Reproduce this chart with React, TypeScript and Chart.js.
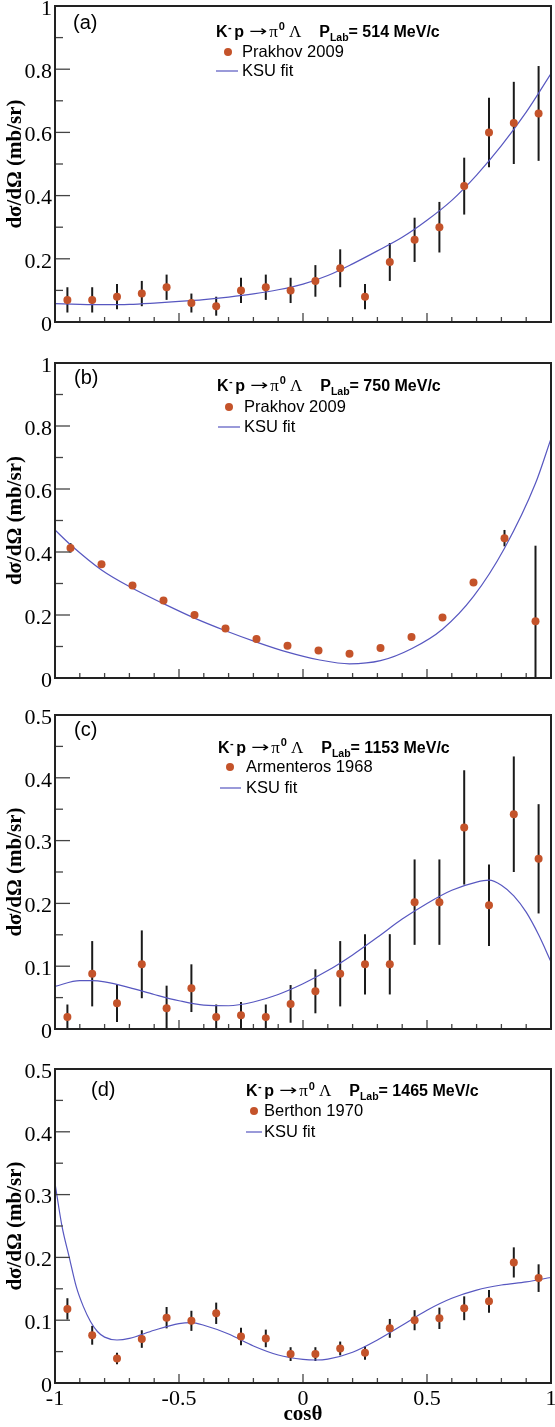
import React, { useEffect, useRef } from 'react';
import { Chart, registerables } from 'chart.js';

Chart.register(...registerables);

// ---------- DATA ----------
const bins20 = [-0.95, -0.85, -0.75, -0.65, -0.55, -0.45, -0.35, -0.25, -0.15, -0.05, 0.05, 0.15, 0.25, 0.35, 0.45, 0.55, 0.65, 0.75, 0.85, 0.95];
const bins16 = [-0.9375, -0.8125, -0.6875, -0.5625, -0.4375, -0.3125, -0.1875, -0.0625, 0.0625, 0.1875, 0.3125, 0.4375, 0.5625, 0.6875, 0.8125, 0.9375];

// (a) Prakhov 2009, 514 MeV/c
const valuesA = [0.07, 0.07, 0.08, 0.09, 0.11, 0.06, 0.05, 0.10, 0.11, 0.10, 0.13, 0.17, 0.08, 0.19, 0.26, 0.30, 0.43, 0.60, 0.63, 0.66];
const errorsA = [0.04, 0.04, 0.04, 0.04, 0.04, 0.03, 0.03, 0.04, 0.04, 0.04, 0.05, 0.06, 0.04, 0.06, 0.07, 0.08, 0.09, 0.11, 0.13, 0.15];
const fitXA = [-1, -0.9, -0.8, -0.7, -0.6, -0.5, -0.4, -0.3, -0.2, -0.1, 0, 0.1, 0.2, 0.3, 0.4, 0.5, 0.6, 0.7, 0.8, 0.9, 1];
const fitYA = [0.058, 0.056, 0.055, 0.056, 0.06, 0.065, 0.071, 0.079, 0.089, 0.102, 0.12, 0.147, 0.184, 0.225, 0.268, 0.322, 0.385, 0.465, 0.558, 0.664, 0.786];

// (b) Prakhov 2009, 750 MeV/c
const valuesB = [0.413, 0.361, 0.294, 0.246, 0.2, 0.157, 0.124, 0.102, 0.087, 0.077, 0.095, 0.13, 0.192, 0.303, 0.444, 0.18];
const errorsB = [0.015, 0.01, 0.01, 0.01, 0.01, 0.01, 0.01, 0.01, 0.01, 0.01, 0.01, 0.01, 0.01, 0.01, 0.026, 0.24];
const fitXB = [-1, -0.9375, -0.8125, -0.6875, -0.5625, -0.4375, -0.3125, -0.1875, -0.0625, 0.0625, 0.1875, 0.3125, 0.4375, 0.5625, 0.6875, 0.8125, 0.9375, 1];
const fitYB = [0.47, 0.423, 0.343, 0.285, 0.236, 0.19, 0.15, 0.114, 0.082, 0.058, 0.045, 0.055, 0.093, 0.155, 0.259, 0.412, 0.618, 0.76];

// (c) Armenteros 1968, 1153 MeV/c
const valuesC = [0.019, 0.088, 0.041, 0.103, 0.033, 0.065, 0.019, 0.022, 0.019, 0.04, 0.06, 0.088, 0.103, 0.103, 0.202, 0.202, 0.321, 0.197, 0.342, 0.271];
const errorsC = [0.02, 0.052, 0.03, 0.054, 0.036, 0.038, 0.02, 0.021, 0.02, 0.03, 0.035, 0.052, 0.048, 0.048, 0.068, 0.068, 0.091, 0.065, 0.092, 0.087];
const fitXC = [-1, -0.9, -0.85, -0.8, -0.7, -0.6, -0.5, -0.4, -0.3, -0.2, -0.1, 0, 0.1, 0.2, 0.3, 0.4, 0.5, 0.6, 0.7, 0.75, 0.8, 0.85, 0.9, 0.95, 1];
const fitYC = [0.068, 0.077, 0.077, 0.075, 0.066, 0.055, 0.045, 0.038, 0.037, 0.043, 0.055, 0.072, 0.093, 0.118, 0.146, 0.175, 0.2, 0.221, 0.234, 0.237, 0.229, 0.212, 0.186, 0.15, 0.107];

// (d) Berthon 1970, 1465 MeV/c
const valuesD = [0.118, 0.076, 0.039, 0.07, 0.104, 0.099, 0.111, 0.074, 0.071, 0.046, 0.046, 0.055, 0.048, 0.087, 0.1, 0.103, 0.119, 0.13, 0.192, 0.167];
const errorsD = [0.017, 0.015, 0.009, 0.014, 0.017, 0.016, 0.017, 0.014, 0.014, 0.011, 0.011, 0.011, 0.011, 0.015, 0.016, 0.017, 0.019, 0.018, 0.024, 0.022];
const fitXD = [-1, -0.9715, -0.943, -0.914, -0.886, -0.857, -0.829, -0.8, -0.75, -0.7, -0.6, -0.5, -0.45, -0.4, -0.3, -0.2, -0.1, 0, 0.05, 0.1, 0.2, 0.3, 0.4, 0.5, 0.6, 0.7, 0.8, 0.9, 1];
const fitYD = [0.318, 0.249, 0.201, 0.153, 0.122, 0.098, 0.082, 0.073, 0.0685, 0.071, 0.084, 0.0945, 0.096, 0.092, 0.078, 0.059, 0.0446, 0.0377, 0.0366, 0.038, 0.049, 0.0685, 0.092, 0.116, 0.135, 0.148, 0.156, 0.161, 0.168];

const xTickLabels = ['-1', '-0.5', '0', '0.5', '1'];
const yTitle = 'dσ/dΩ (mb/sr)';
const xTitle = 'cosθ';
const fitLabel = 'KSU fit';

// ---------- STYLE ----------
const MARKER = '#C4532A';
const FIT = '#5757C0';
const SERIF = '"Liberation Serif", "Times New Roman", serif';
const SANS = '"Liberation Sans", Arial, Helvetica, sans-serif';

type PanelCfg = {
  top: number; height: number; padTop: number; xAxisH: number;
  yMax: number; yMajor: number; yMinor: number;
  bins: number[]; values: number[]; errors: number[];
  fitX: number[]; fitY: number[];
  tag: string; tagX: number; tagY: number;
  momentum: string; source: string;
  headX: number; headY: number; markX: number; textX: number; lineX0: number; lineX1: number; row1Y: number; row2Y: number;
  showX: boolean;
};

const panels: PanelCfg[] = [
  { top: 0, height: 340, padTop: 6, xAxisH: 18, yMax: 1, yMajor: 0.2, yMinor: 0.1,
    bins: bins20, values: valuesA, errors: errorsA, fitX: fitXA, fitY: fitYA,
    tag: '(a)', tagX: 73, tagY: 17, momentum: '514', source: 'Prakhov 2009',
    headX: 216, headY: 25, markX: 228, textX: 242, lineX0: 216, lineX1: 238, row1Y: 46, row2Y: 65, showX: false },
  { top: 340, height: 355, padTop: 23, xAxisH: 17, yMax: 1, yMajor: 0.2, yMinor: 0.1,
    bins: bins16, values: valuesB, errors: errorsB, fitX: fitXB, fitY: fitYB,
    tag: '(b)', tagX: 74, tagY: 15, momentum: '750', source: 'Prakhov 2009',
    headX: 217, headY: 22, markX: 229, textX: 244, lineX0: 218, lineX1: 240, row1Y: 44, row2Y: 64, showX: false },
  { top: 695, height: 350, padTop: 20, xAxisH: 16, yMax: 0.5, yMajor: 0.1, yMinor: 0.05,
    bins: bins20, values: valuesC, errors: errorsC, fitX: fitXC, fitY: fitYC,
    tag: '(c)', tagX: 74, tagY: 15, momentum: '1153', source: 'Armenteros 1968',
    headX: 218, headY: 32, markX: 230, textX: 246, lineX0: 220, lineX1: 241, row1Y: 52, row2Y: 73, showX: false },
  { top: 1045, height: 382, padTop: 24, xAxisH: 44, yMax: 0.5, yMajor: 0.1, yMinor: 0.05,
    bins: bins20, values: valuesD, errors: errorsD, fitX: fitXD, fitY: fitYD,
    tag: '(d)', tagX: 91, tagY: 21, momentum: '1465', source: 'Berthon 1970',
    headX: 246, headY: 21.5, markX: 254, textX: 264, lineX0: 246, lineX1: 262, row1Y: 42, row2Y: 63, showX: true },
];

const fmt = (v: number | string) => String(Number(Number(v).toFixed(3)));

function drawHeader(ctx: CanvasRenderingContext2D, x: number, capMid: number, momentum: string) {
  const fs = 16;
  const base = capMid + 0.36 * fs;
  let cx = x;
  const put = (t: string, font: string, dy: number, gap: number, sx = 1) => {
    ctx.font = font;
    ctx.save();
    ctx.translate(cx, base + dy);
    ctx.scale(sx, 1);
    ctx.fillText(t, 0, 0);
    ctx.restore();
    cx += ctx.measureText(t).width * sx + gap;
  };
  const bold = (s: number) => `bold ${s}px ${SANS}`;
  const serif = (s: number) => `${s}px ${SERIF}`;
  ctx.fillStyle = '#000';
  ctx.textBaseline = 'alphabetic';
  ctx.textAlign = 'left';
  put('K', bold(fs), 0, 0.5);
  put('-', bold(11), -6, 2.5);
  put('p', bold(fs), 0, 5);
  put('→', `15px "DejaVu Sans", ${SERIF}`, -1, 2, 1.45);
  put('π', serif(17), 0, 1);
  put('0', bold(11), -6.5, 4);
  put('Λ', serif(17), 0, 18);
  put('P', bold(fs), 0, 0);
  put('Lab', bold(10.5), 4, 0);
  put('= ' + momentum + ' MeV/c', bold(fs), 0, 0);
}

function Panel({ cfg }: { cfg: PanelCfg }) {
  const ref = useRef<HTMLCanvasElement>(null);
  useEffect(() => {
    const canvas = ref.current;
    if (!canvas) return;
    const rootPlugin = {
      id: 'rootStyle',
      beforeDatasetsDraw(chart: any) {
        const { ctx, chartArea: a, scales: { x, y } } = chart;
        ctx.save();
        ctx.beginPath();
        ctx.rect(a.left, a.top, a.right - a.left, a.bottom - a.top);
        ctx.clip();
        ctx.strokeStyle = '#1a1a1a';
        ctx.lineWidth = 2;
        cfg.bins.forEach((b, i) => {
          const px = x.getPixelForValue(b);
          ctx.beginPath();
          ctx.moveTo(px, y.getPixelForValue(cfg.values[i] - cfg.errors[i]));
          ctx.lineTo(px, y.getPixelForValue(cfg.values[i] + cfg.errors[i]));
          ctx.stroke();
        });
        ctx.restore();
      },
      afterDatasetsDraw(chart: any) {
        const { ctx, chartArea: a, scales: { x, y } } = chart;
        ctx.save();
        ctx.strokeStyle = '#444';
        ctx.lineWidth = 1.3;
        const nY = Math.round(cfg.yMax / cfg.yMinor);
        for (let i = 0; i <= nY; i++) {
          const py = y.getPixelForValue(i * cfg.yMinor);
          const len = i % 2 === 0 ? 15 : 8;
          ctx.beginPath();
          ctx.moveTo(a.left, py);
          ctx.lineTo(a.left + len, py);
          ctx.stroke();
        }
        for (let i = 0; i <= 20; i++) {
          const px = x.getPixelForValue(-1 + i * 0.1);
          const len = i % 5 === 0 ? 9 : 5;
          ctx.beginPath();
          ctx.moveTo(px, a.bottom);
          ctx.lineTo(px, a.bottom - len);
          ctx.stroke();
        }
        ctx.strokeStyle = '#222';
        ctx.lineWidth = 2;
        ctx.strokeRect(a.left, a.top, a.right - a.left, a.bottom - a.top);
        ctx.restore();
      },
      afterDraw(chart: any) {
        const { ctx, chartArea: a } = chart;
        ctx.save();
        ctx.fillStyle = '#000';
        ctx.font = `20px ${SANS}`;
        ctx.textBaseline = 'middle';
        ctx.textAlign = 'left';
        ctx.fillText(cfg.tag, cfg.tagX, a.top + cfg.tagY);
        drawHeader(ctx, cfg.headX, a.top + cfg.headY, cfg.momentum);
        ctx.fillStyle = MARKER;
        ctx.beginPath();
        ctx.arc(cfg.markX, a.top + cfg.row1Y, 4, 0, Math.PI * 2);
        ctx.fill();
        ctx.strokeStyle = FIT;
        ctx.lineWidth = 1.2;
        ctx.beginPath();
        ctx.moveTo(cfg.lineX0, a.top + cfg.row2Y);
        ctx.lineTo(cfg.lineX1, a.top + cfg.row2Y);
        ctx.stroke();
        ctx.fillStyle = '#000';
        ctx.font = `16.5px ${SANS}`;
        ctx.textBaseline = 'middle';
        ctx.fillText(cfg.source, cfg.textX, a.top + cfg.row1Y);
        ctx.fillText(fitLabel, cfg.textX, a.top + cfg.row2Y);
        ctx.restore();
      },
    };
    const chart = new Chart(canvas, {
      type: 'scatter',
      data: {
        datasets: [
          {
            type: 'line',
            label: fitLabel,
            data: cfg.fitX.map((v, i) => ({ x: v, y: cfg.fitY[i] })),
            borderColor: FIT,
            borderWidth: 1.2,
            pointRadius: 0,
            cubicInterpolationMode: 'monotone',
            fill: false,
            order: 2,
          } as any,
          {
            type: 'scatter',
            label: cfg.source,
            data: cfg.bins.map((v, i) => ({ x: v, y: cfg.values[i] })),
            pointRadius: 4,
            pointBackgroundColor: MARKER,
            pointBorderWidth: 0,
            order: 1,
          } as any,
        ],
      },
      options: {
        responsive: false,
        animation: false,
        devicePixelRatio: 1,
        layout: { padding: { top: cfg.padTop, right: 3, left: 0, bottom: 0 } },
        plugins: { legend: { display: false }, tooltip: { enabled: false } },
        scales: {
          x: {
            type: 'linear',
            min: -1,
            max: 1,
            grid: { display: false, drawTicks: false },
            border: { display: false },
            ticks: {
              display: cfg.showX,
              stepSize: 0.5,
              padding: 3,
              maxRotation: 0,
              autoSkip: false,
              color: '#000',
              font: { family: SERIF, size: 22 },
              callback: (v: any) => {
                const s = fmt(v);
                return xTickLabels.includes(s) ? s : '';
              },
            },
            title: { display: cfg.showX, text: xTitle, color: '#000', font: { family: SERIF, size: 21, weight: 'bold' }, padding: 0 },
            afterFit: (s: any) => { s.height = cfg.xAxisH; s.paddingLeft = 0; s.paddingRight = 0; },
          } as any,
          y: {
            type: 'linear',
            min: 0,
            max: cfg.yMax,
            grid: { display: false, drawTicks: false },
            border: { display: false },
            ticks: {
              stepSize: cfg.yMajor,
              padding: 3,
              labelOffset: 3,
              color: '#000',
              font: { family: SERIF, size: 22 },
              callback: (v: any) => fmt(v),
            },
            title: { display: true, text: yTitle, color: '#000', font: { family: SERIF, size: 21, weight: 'bold' }, padding: { top: 3, bottom: 0 } },
            afterFit: (s: any) => { s.width = 55; s.paddingTop = 0; s.paddingBottom = 0; },
          } as any,
        },
      },
      plugins: [rootPlugin],
    });
    return () => chart.destroy();
  }, [cfg]);
  return (
    <canvas
      ref={ref}
      width={555}
      height={cfg.height}
      style={{ position: 'absolute', left: 0, top: cfg.top, width: 555, height: cfg.height, display: 'block' }}
    />
  );
}

export default function App() {
  return (
    <div style={{ position: 'absolute', left: 0, top: 0, width: 555, height: 1427, background: '#fff', overflow: 'hidden' }}>
      {panels.map((p) => (
        <Panel key={p.tag} cfg={p} />
      ))}
    </div>
  );
}
